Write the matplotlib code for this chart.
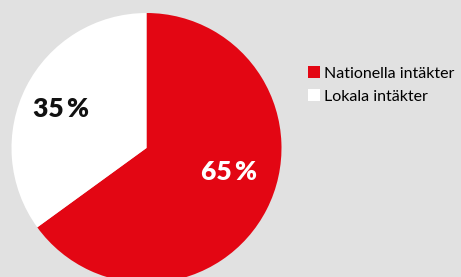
import matplotlib

matplotlib.use("agg")
import matplotlib.pyplot as plt

labels = ["Nationella intäkter", "Lokala intäkter"]
shares = [65, 35]
colors = ["#e30613", "#ffffff"]
text_colors = ["white", "#111111"]

W, H = 461, 277
fig = plt.figure(figsize=(W / 100, H / 100), dpi=100, facecolor="#e1e1e1")

# pie: centre (146.5, 148) px from top-left, radius 135 px
cx, cy, r = 146.5, 148, 135
ax = fig.add_axes([(cx - r) / W, (H - cy - r) / H, 2 * r / W, 2 * r / H])
ax.set_facecolor("#e1e1e1")

wedges, texts, autotexts = ax.pie(
    shares,
    colors=colors,
    startangle=90,
    counterclock=False,
    radius=1,
    autopct=lambda p: "%d\u2009%%" % round(p),
    pctdistance=0.7,
    wedgeprops=dict(linewidth=0),
)
for t, c in zip(autotexts, text_colors):
    t.set_color(c)
    t.set_fontsize(19)
    t.set_fontweight("heavy")
    t.set_family("Lato")
# labels sit a little off the wedge middles
autotexts[0].set_position((0.61, -0.18))
autotexts[1].set_position((-0.63, 0.29))

ax.set_xlim(-1, 1)
ax.set_ylim(-1, 1)
ax.set_aspect("equal")
ax.axis("off")

leg = fig.legend(
    wedges,
    labels,
    loc="upper left",
    bbox_to_anchor=(294 / W, 1 - 52 / H),
    frameon=False,
    handlelength=0.7,
    handleheight=0.7,
    handletextpad=0.3,
    labelspacing=0.55,
    prop={"family": "Lato", "size": 11.5},
)

fig.savefig("out.png", dpi=100, facecolor="#e1e1e1")
